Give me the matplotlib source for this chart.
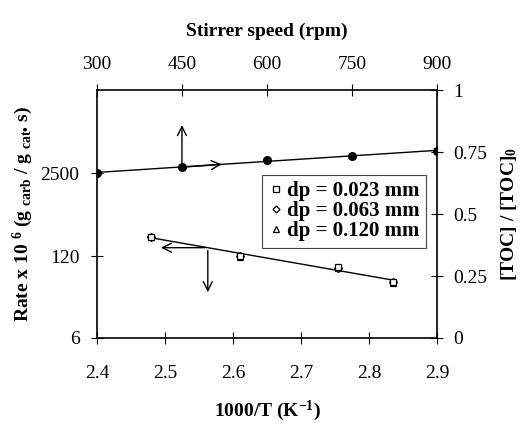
import matplotlib.pyplot as plt
import numpy as np
from matplotlib.lines import Line2D

plt.rcParams['font.family'] = 'Liberation Serif'
plt.rcParams['mathtext.fontset'] = 'custom'
plt.rcParams['mathtext.rm'] = 'Liberation Serif'
plt.rcParams['mathtext.bf'] = 'Liberation Serif:bold'
plt.rcParams['mathtext.default'] = 'regular'

# Rate vs 1000/T for three particle sizes (bottom / left axes)
inv_T = [2.48, 2.61, 2.755, 2.835]
rate_023 = [243, 120, 80, 47]
rate_063 = [240, 119, 79, 46]
rate_120 = [237, 118, 77, 45]

# [TOC]/[TOC]0 vs stirrer speed (top / right axes)
speed = [300, 450, 600, 750, 900]
toc_ratio = [0.665, 0.689, 0.72, 0.734, 0.754]

left_ticks = [6, 120, 2500]
bottom_ticks = [2.4, 2.5, 2.6, 2.7, 2.8, 2.9]
right_ticks = [0, 0.25, 0.5, 0.75, 1]
right_labels = ['0', '0.25', '0.5', '0.75', '1']

fig = plt.figure(figsize=(5.24, 4.23), dpi=100)
ax = fig.add_axes([0.185, 0.201, 0.649, 0.586])
ax2 = fig.add_axes(ax.get_position(), frameon=False)

# --- rate data on bottom/left axes
ax.set_yscale('log')
ax.set_xlim(2.4, 2.9)
ax.set_ylim(6, 52000)
fit = np.polyfit(inv_T, np.log10(rate_023), 1)
xf = np.array([2.475, 2.84])
ax.plot(xf, 10 ** np.polyval(fit, xf), color='black', lw=1.0)
mk = dict(color='black', mfc='white', mew=0.9, ls='none')
ax.plot(inv_T, rate_120, marker='^', ms=5, **mk)
ax.plot(inv_T, rate_063, marker='D', ms=4, **mk)
ax.plot(inv_T, rate_023, marker='s', ms=5, **mk)

ax.set_xticks(bottom_ticks)
ax.set_xticklabels(['%.1f' % t for t in bottom_ticks])
ax.set_yticks(left_ticks)
ax.set_yticklabels([str(t) for t in left_ticks])
ax.yaxis.set_minor_locator(plt.NullLocator())
ax.tick_params(direction='inout', length=9, width=0.8, labelsize=14)
ax.tick_params(axis='x', pad=15)
ax.tick_params(axis='y', pad=8)
ax.set_xlabel('1000/T (K$^{-1}$)', fontsize=14, fontweight='bold', labelpad=12)
ax.set_ylabel('Rate x 10 $^{6}$ (g $_{carb}$ / g $_{cat\u2022}$ s)', fontsize=14,
              fontweight='bold', labelpad=4)
for s in ax.spines.values():
    s.set_linewidth(1.2)

# --- TOC data on top/right axes
ax2.set_xlim(300, 900)
ax2.set_ylim(0, 1)
lf = np.polyfit(speed, toc_ratio, 1)
sx = np.array([300, 900])
ax2.plot(sx, np.polyval(lf, sx), color='black', lw=1.0)
ax2.plot(speed, toc_ratio, 'o', color='black', ms=5.5)
ax2.xaxis.tick_top()
ax2.xaxis.set_label_position('top')
ax2.yaxis.tick_right()
ax2.yaxis.set_label_position('right')
ax2.set_xticks(speed)
ax2.set_yticks(right_ticks)
ax2.set_yticklabels(right_labels)
ax2.tick_params(direction='inout', length=9, width=0.8, labelsize=14)
ax2.tick_params(axis='x', pad=8)
ax2.tick_params(axis='y', pad=7)
ax2.set_xlabel('Stirrer speed (rpm)', fontsize=14, fontweight='bold', labelpad=14)
ax2.set_ylabel('[TOC] / [TOC]$_{0}$', fontsize=14, fontweight='bold', labelpad=9)

# arrows indicating which axes each series belongs to
ap = dict(arrowstyle='->', color='black', lw=1.0, mutation_scale=16)
ax2.annotate('', xy=(speed[1], 0.87), xytext=(speed[1], toc_ratio[1]), arrowprops=ap)
ax2.annotate('', xy=(525, np.polyval(lf, 525)), xytext=(speed[1], toc_ratio[1]),
             arrowprops=ap)
xa = 2.563
ya = 10 ** np.polyval(fit, xa)
ax.annotate('', xy=(2.49, ya), xytext=(xa, ya), arrowprops=ap)
ax.annotate('', xy=(xa, 29), xytext=(xa, ya), arrowprops=ap)

# legend
handles = [Line2D([], [], marker='s', ms=4.5, **mk),
           Line2D([], [], marker='D', ms=3.5, **mk),
           Line2D([], [], marker='^', ms=4.5, **mk)]
labels = ['dp = 0.023 mm', 'dp = 0.063 mm', 'dp = 0.120 mm']
leg = ax.legend(handles, labels, loc='upper right', bbox_to_anchor=(0.968, 0.657),
                prop={'weight': 'bold', 'size': 15}, frameon=True, fancybox=False,
                edgecolor='#444444', framealpha=1, labelspacing=0.0,
                handletextpad=0.2, handlelength=0.7, borderpad=0.3,
                borderaxespad=0)
leg.get_frame().set_linewidth(0.8)

fig.savefig('out.png', dpi=100)
